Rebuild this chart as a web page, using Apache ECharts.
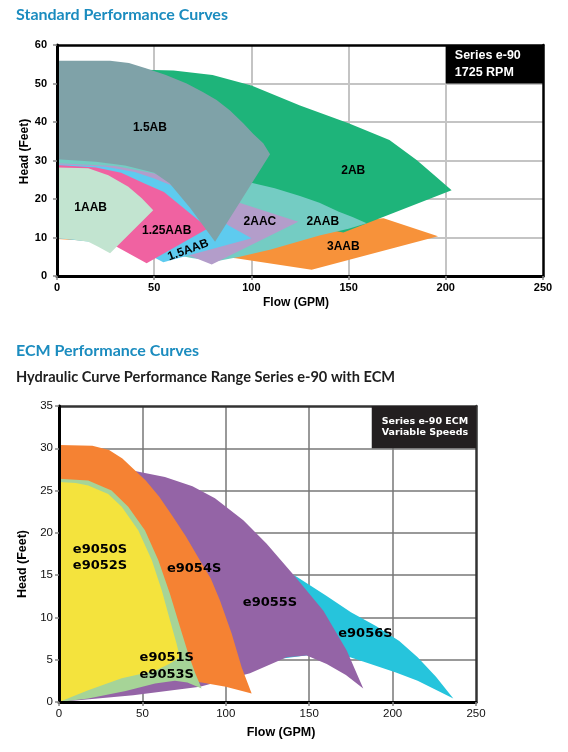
<!DOCTYPE html>
<html>
<head>
<meta charset="utf-8">
<script src="https://cdn.jsdelivr.net/npm/echarts@6/dist/echarts.min.js"></script>
<style>
html, body { margin: 0; padding: 0; background: #fff; }
#chart { width: 568px; height: 752px; }
</style>
</head>
<body>
<div id="chart"></div>
<script>
// ---- standard curves, points are [flow GPM, head ft] ----
var std3AAB = [[0,10.3],[60,10.2],[110,12.5],[140,14],[168,15],[196,10.3],[131,1.6],[92,4.6],[60,6.2],[40,7.5],[20,9.0],[0,9.6]];
var std2AB = [[45,53.6],[60,53.4],[80,52.2],[100,49.5],[125,44.3],[150,39.7],[171,35.3],[185,30.1],[195,25.8],[203,22.3],[147.3,11.3],[130,13],[110,16.5],[80,22],[60,25],[45,29]];
var std2AAB = [[0,30.6],[20,30.4],[40,29.5],[55,28],[70,27],[85,25.8],[100,24.2],[112,22.8],[125,20.8],[135,19],[145,16.7],[152,15.3],[159.3,13.7],[150,12.3],[135,10.5],[110,6.9],[94,5.0],[82,3.8],[70,4.6],[50,6.5],[25,8.8],[0,10]];
var std2AAC = [[0,29.3],[30,28.6],[50,26.6],[65,24],[89.8,19.7],[124.1,14.1],[79.6,3.0],[65,5.9],[50,7.5],[25,9],[0,9.8]];
var std15AAB = [[0,29.0],[25,28.4],[40,27],[50,25.3],[60,23.3],[75,18.5],[88,13.2],[100.1,9.8],[54.7,3.6],[50,4.8],[40,6.5],[30,8.2],[0,9.9]];
var std125AAB = [[0,28.8],[20,28.2],[33,26.8],[45,24],[55,21.8],[77.8,12.4],[46.1,3.3],[30.7,7.6],[20,9.3],[0,10.0]];
var std15AB = [[0,55.9],[27.3,55.9],[37,55.3],[46.1,53.9],[56,52.2],[66.7,50.0],[75,47.8],[82.1,45.7],[89,43],[95.8,39.7],[101,36.9],[106.1,34.5],[109.6,31.6],[81.3,8.9],[68.4,17.7],[58,24],[50,26.8],[35,28.7],[20,29.7],[0,30.3]];
var std1AAB = [[0,28.2],[16.1,28.0],[26.4,26.2],[36.7,23.2],[43.6,20.2],[49.5,17.1],[27.3,5.9],[21.2,7.6],[16.1,8.9],[8,9.5],[0,9.8]];

var stdLabels = ['1.5AB', '2AB', '1AAB', '1.25AAB', '1.5AAB', '2AAC', '2AAB', '3AAB'];
var stdLabelX = [47.8, 152.4, 17.3, 56.4, 67.5, 104.4, 136.7, 147.3];
var stdLabelY = [38.4, 27.4, 17.7, 11.7, 6.75, 14.1, 14.1, 7.6];
var stdLabelRot = [0, 0, 0, 0, 20, 0, 0, 0];
var stdBox = [200, 60, 250, 50];
var stdBoxText = 'Series e-90\n1725 RPM';

// ---- ECM curves ----
var ecm9056 = [[100,18.5],[120,17.2],[142.5,14.8],[160,12.6],[175,10.6],[190,9.0],[204,7.2],[215,5.3],[226,3.0],[236.4,0.4],[215,2.5],[202,3.5],[185,4.6],[174.5,5.3],[160,5.5],[148,5.5],[120,4.8],[100,4]];
var ecm9055 = [[0,0],[0,25],[30,27.8],[45.5,27.3],[63.5,26.6],[80,25.5],[93.5,24.1],[110.5,21.5],[124.5,18.7],[142.5,14.6],[158.5,10.8],[172.5,6.1],[182.4,1.6],[172,3.2],[160.5,4.5],[148.5,5.5],[136.5,5.3],[114.5,3.4],[84.5,1.8],[44.5,0.8]];
var ecm9054 = [[0,30.4],[20,30.3],[30,29.8],[38,28.8],[45,27.5],[52,26.2],[60,24.3],[68,22],[76,19.6],[85.5,16.4],[91,14.6],[96.5,12.0],[103.5,8.1],[109.5,4.1],[115.5,1.0],[100,1.8],[85.5,2.3],[60,3],[30,3],[0,3]];
var ecm9051 = [[0,26.4],[17.5,26.2],[31.5,25.0],[41.5,23.1],[51.5,20.3],[59.5,16.8],[66.5,12.8],[72.5,8.9],[77.5,5.7],[81.5,3.5],[85.5,1.6],[77,2.3],[69.5,2.5],[57.6,2.2],[40,1.3],[17.5,0.4],[0,0]];
var ecm9050 = [[0,26.0],[10,25.9],[17.5,25.6],[29.5,24.6],[37.6,23.1],[47.5,20.3],[55.6,16.8],[61.6,13.2],[66.5,9.7],[70.5,6.9],[72.5,5.3],[66,4.5],[57.6,3.7],[37.6,2.8],[17.5,1.4],[0,0]];

var ecmLabels = ['e9050S\ne9052S', 'e9054S', 'e9055S', 'e9056S', 'e9051S\ne9053S'];
var ecmLabelX = [24.6, 81, 126.5, 183.7, 64.6];
var ecmLabelY = [17.1, 15.8, 11.8, 8.1, 4.25];
var ecmBox = [187.5, 35, 250, 30];
var ecmBoxText = 'Series e-90 ECM\nVariable Speeds';

var flowTicks = {min: 0, max: 250, interval: 50};

// pick a font size so the heading comes out at the width it has in the print
function fitSize(text, family, target, base) {
    var ctx = document.createElement('canvas').getContext('2d');
    ctx.font = 'bold ' + base + 'px ' + family;
    return Math.round(base * target / ctx.measureText(text).width * 10) / 10;
}

function polySeries(pts, color, gi) {
    return {
        type: 'custom', xAxisIndex: gi * 2, yAxisIndex: gi * 2, silent: true, z: 2,
        data: pts,
        renderItem: function(params, api) {
            if (params.dataIndex !== 0) return null;
            var points = pts.map(function(p) { return api.coord(p); });
            return {type: 'polygon', shape: {points: points}, style: {fill: color}};
        }
    };
}

function labelSeries(texts, xs, ys, rots, font, gi) {
    return {
        type: 'custom', xAxisIndex: gi * 2, yAxisIndex: gi * 2, silent: true, z: 5,
        data: texts.map(function(t, i) { return [xs[i], ys[i], i]; }),
        renderItem: function(params, api) {
            var i = api.value(2);
            var c = api.coord([api.value(0), api.value(1)]);
            return {
                type: 'text', x: c[0], y: c[1],
                rotation: (rots ? rots[i] : 0) * Math.PI / 180,
                style: {text: texts[i], fill: '#000', font: font, align: 'center', verticalAlign: 'middle', lineHeight: 16.5}
            };
        }
    };
}

function boxSeries(box, text, bg, font, lh, pad, gi) {
    return {
        type: 'custom', xAxisIndex: gi * 2, yAxisIndex: gi * 2, silent: true, z: 5,
        data: [box],
        renderItem: function(params, api) {
            var p0 = api.coord([api.value(0), api.value(1)]);
            var p1 = api.coord([api.value(2), api.value(3)]);
            return {type: 'group', children: [
                {type: 'rect', shape: {x: p0[0], y: p0[1], width: p1[0] - p0[0], height: p1[1] - p0[1]}, style: {fill: bg}},
                {type: 'text', x: p0[0] + pad, y: (p0[1] + p1[1]) / 2,
                 style: {text: text, fill: '#fff', font: font, align: 'left', verticalAlign: 'middle', lineHeight: lh}}
            ]};
        }
    };
}

var boldArial = {fontFamily: 'Liberation Sans', fontWeight: 'bold', color: '#000'};

function mainX(gi, o) {
    return Object.assign({
        gridIndex: gi, type: 'value', position: 'bottom', z: 10,
        axisLine: {show: true, onZero: false, lineStyle: {color: '#000', width: 3}},
        axisTick: {show: true, length: 4, lineStyle: {color: '#888', width: 1.5}},
        splitLine: {show: false},
        nameLocation: 'middle', nameMoveOverlap: false
    }, flowTicks, o);
}
function frameX(gi, frameColor, gridColor, gridWidth) {
    return Object.assign({
        gridIndex: gi, type: 'value', position: 'top', z: 1,
        axisLine: {show: true, onZero: false, lineStyle: {color: frameColor, width: 2.5}},
        axisTick: {show: false}, axisLabel: {show: false},
        splitLine: {show: true, showMinLine: false, showMaxLine: false, lineStyle: {color: gridColor, width: gridWidth}}
    }, flowTicks);
}
function mainY(gi, o) {
    return Object.assign({
        gridIndex: gi, type: 'value', position: 'left', z: 10,
        axisLine: {show: true, onZero: false, lineStyle: {color: '#000', width: 3}},
        axisTick: {show: true, length: 4, lineStyle: {color: '#888', width: 1.5}},
        splitLine: {show: false},
        nameLocation: 'middle', nameMoveOverlap: false
    }, o);
}
function frameY(gi, max, interval, frameColor, gridColor, gridWidth) {
    return {
        gridIndex: gi, type: 'value', position: 'right', z: 1, min: 0, max: max, interval: interval,
        axisLine: {show: true, onZero: false, lineStyle: {color: frameColor, width: 2.5}},
        axisTick: {show: false}, axisLabel: {show: false},
        splitLine: {show: true, showMinLine: false, showMaxLine: false, lineStyle: {color: gridColor, width: gridWidth}}
    };
}

var title1 = 'Standard Performance Curves';
var title2 = 'ECM Performance Curves';
var title3 = 'Hydraulic Curve Performance Range Series e-90 with ECM';
var blueSize = fitSize(title1, 'Lato', 212, 16);
var subSize = fitSize(title3, 'Lato', 378, 14);

var chart = echarts.init(document.getElementById('chart'), null, {renderer: 'canvas'});
chart.setOption({
    animation: false,
    backgroundColor: '#fff',
    title: [
        {text: title1, left: 16, top: 7, padding: 0,
         textStyle: {fontFamily: 'Lato', fontWeight: 'bold', fontSize: blueSize, color: '#1b8cbf'}},
        {text: title2, left: 16, top: 343, padding: 0,
         textStyle: {fontFamily: 'Lato', fontWeight: 'bold', fontSize: blueSize, color: '#1b8cbf'}},
        {text: title3, left: 16, top: 370, padding: 0,
         textStyle: {fontFamily: 'Lato', fontWeight: 'bold', fontSize: subSize, color: '#1e1e1e'}}
    ],
    grid: [
        {left: 57, top: 45, width: 486, height: 231},
        {left: 59, top: 406, width: 417, height: 296}
    ],
    xAxis: [
        mainX(0, {
            axisLabel: Object.assign({margin: 6, fontSize: 11}, boldArial),
            name: 'Flow (GPM)', nameGap: 21,
            nameTextStyle: Object.assign({fontSize: 12, padding: [0, 8, 0, 0]}, boldArial)
        }),
        frameX(0, '#000', '#c4c4c4', 2),
        mainX(1, {
            axisLabel: {margin: 6, fontSize: 11.5, fontFamily: 'Liberation Sans', color: '#111'},
            name: 'Flow (GPM)', nameGap: 24,
            nameTextStyle: Object.assign({fontSize: 12.5, padding: [0, 0, 0, 27]}, boldArial)
        }),
        frameX(1, '#333', '#777', 1.5)
    ],
    yAxis: [
        mainY(0, {
            min: 0, max: 60, interval: 10,
            axisLabel: Object.assign({margin: 10, fontSize: 11}, boldArial),
            name: 'Head (Feet)', nameGap: 26,
            nameTextStyle: Object.assign({fontSize: 12, padding: [0, 0, 0, 18]}, boldArial)
        }),
        frameY(0, 60, 10, '#000', '#c4c4c4', 2),
        mainY(1, {
            min: 0, max: 35, interval: 5,
            axisLabel: {margin: 6, fontSize: 11.5, fontFamily: 'Liberation Sans', color: '#111'},
            name: 'Head (Feet)', nameGap: 29.5,
            nameTextStyle: Object.assign({fontSize: 12.5, padding: [0, 20, 0, 0]}, boldArial)
        }),
        frameY(1, 35, 5, '#333', '#777', 1.5)
    ],
    series: [
        polySeries(std3AAB, '#f7923a', 0),
        polySeries(std2AB, '#1eb47a', 0),
        polySeries(std2AAB, '#74ccc3', 0),
        polySeries(std2AAC, '#b39dca', 0),
        polySeries(std15AAB, '#5ecbef', 0),
        polySeries(std125AAB, '#f062a1', 0),
        polySeries(std15AB, '#7fa2a8', 0),
        polySeries(std1AAB, '#c2e4d0', 0),
        labelSeries(stdLabels, stdLabelX, stdLabelY, stdLabelRot, 'bold 12px "Liberation Sans"', 0),
        boxSeries(stdBox, stdBoxText, '#000', 'bold 12.5px "Liberation Sans"', 16.5, 9, 0),

        polySeries(ecm9056, '#26c4dc', 1),
        polySeries(ecm9055, '#9464a6', 1),
        polySeries(ecm9054, '#f58233', 1),
        polySeries(ecm9051, '#a6d497', 1),
        polySeries(ecm9050, '#f4e33d', 1),
        labelSeries(ecmLabels, ecmLabelX, ecmLabelY, null, 'bold 13px "DejaVu Sans"', 1),
        boxSeries(ecmBox, ecmBoxText, '#231f20', 'bold 9.5px "DejaVu Sans"', 11.6, 10, 1)
    ]
});
</script>
</body>
</html>
